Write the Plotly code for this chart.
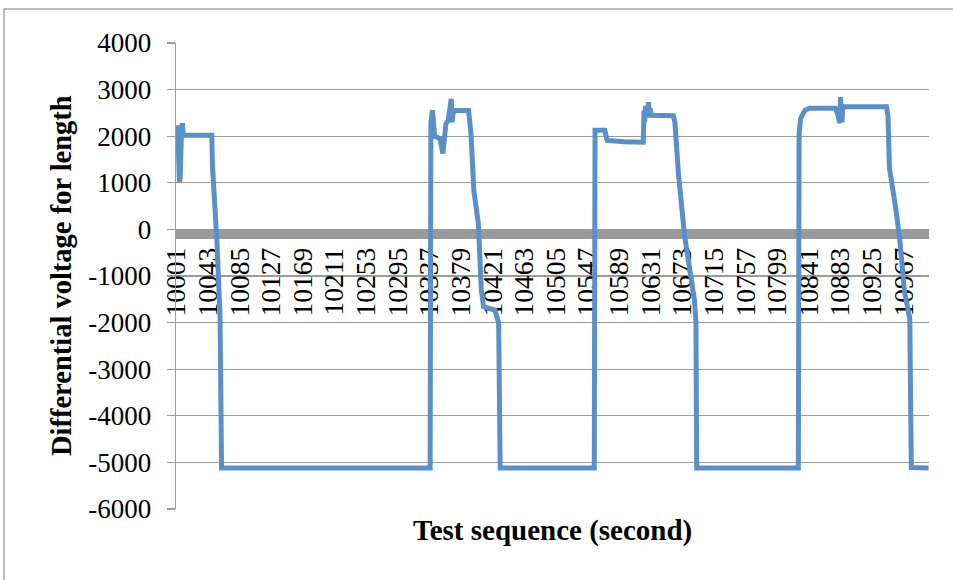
import plotly.graph_objects as go

# Breakpoints of the measured trace (test sequence index, differential voltage)
seq_x = [10001, 10003, 10005, 10006, 10008, 10009, 10010, 10012, 10048, 10049,
         10055, 10059, 10061, 10338, 10339, 10341, 10344, 10351, 10355, 10359,
         10362, 10366, 10367, 10369, 10389, 10392, 10394, 10396, 10402, 10406,
         10409, 10424, 10429, 10431, 10556, 10557, 10570, 10573, 10596, 10621,
         10622, 10623, 10624, 10626, 10628, 10629, 10630, 10632, 10661, 10663,
         10668, 10676, 10689, 10691, 10692, 10827, 10828, 10830, 10836, 10842,
         10876, 10879, 10882, 10883, 10885, 10886, 10944, 10946, 10948, 10957,
         10962, 10968, 10975, 10977, 11000]
voltage = [2230, 2100, 1020, 1100, 2200, 2280, 2050, 2020, 2020, 1340,
           -300, -1870, -5120, -5120, 2300, 2560, 2000, 1950, 1630, 2270,
           2340, 2800, 2300, 2550, 2550, 2100, 1500, 840, 130, -1300,
           -1660, -1730, -2010, -5120, -5120, 2130, 2130, 1910, 1880, 1870,
           2550, 2300, 2650, 2400, 2730, 2450, 2600, 2450, 2440, 2300,
           1150, -150, -1510, -2000, -5120, -5120, 2050, 2380, 2560, 2600,
           2600, 2490, 2280, 2840, 2300, 2630, 2630, 2450, 1310, 380,
           -270, -1340, -1920, -5110, -5120]

x_tick_vals = [10001, 10043, 10085, 10127, 10169, 10211, 10253, 10295, 10337, 10379,
               10421, 10463, 10505, 10547, 10589, 10631, 10673, 10715, 10757, 10799,
               10841, 10883, 10925, 10967]
x_tick_text = [str(v) for v in x_tick_vals]
y_tick_vals = [-6000, -5000, -4000, -3000, -2000, -1000, 0, 1000, 2000, 3000, 4000]
y_tick_text = ["-6000", "-5000", "-4000", "-3000", "-2000", "-1000", "0",
               "1000", "2000", "3000", "4000"]

x_title = "Test sequence (second)"
y_title = "Differential voltage for length"

SERIF = "Liberation Serif, Times New Roman, serif"
GRID = "#9a9a9a"

fig = go.Figure()
fig.add_trace(go.Scatter(
    x=seq_x, y=voltage, mode="lines",
    line=dict(color="#5a8fc8", width=5),
    showlegend=False, hoverinfo="skip",
))

fig.update_layout(
    width=953, height=580,
    margin=dict(l=176, r=24, t=43, b=71),
    paper_bgcolor="white", plot_bgcolor="white",
    font=dict(family=SERIF, color="black"),
    xaxis=dict(
        range=[10000.5, 11000.5],
        tickmode="array", tickvals=x_tick_vals, ticktext=x_tick_text,
        tickangle=-90, tickfont=dict(family=SERIF, size=27.5, color="black"),
        showgrid=False, zeroline=False,
        showline=True, linecolor="#999999", linewidth=9,
        anchor="free", position=0.5906,
        ticks="", layer="below traces",
        ticklabelstandoff=-2,
    ),
    yaxis=dict(
        range=[-6000, 4000],
        tickmode="array", tickvals=y_tick_vals, ticktext=y_tick_text,
        tickfont=dict(family=SERIF, size=27, color="black"),
        showgrid=True, gridcolor=GRID, gridwidth=1.3,
        zeroline=False,
        showline=True, linecolor=GRID, linewidth=1.3,
        ticks="outside", ticklen=8, tickcolor=GRID, tickwidth=1.3,
        ticklabelstandoff=10,
    ),
    annotations=[
        dict(text="<b>" + y_title + "</b>", xref="paper", yref="paper",
             x=-0.1527, y=0.5, xanchor="center", yanchor="middle",
             textangle=-90, showarrow=False,
             font=dict(family=SERIF, size=28.5, color="black")),
        dict(text="<b>" + x_title + "</b>", xref="paper", yref="paper",
             x=0.5, y=-0.047, xanchor="center", yanchor="middle",
             showarrow=False,
             font=dict(family=SERIF, size=29, color="black")),
    ],
    shapes=[
        dict(type="rect", xref="paper", yref="paper",
             x0=-0.2284, x1=1.2, y0=-0.3, y1=1.073,
             line=dict(color="#a6a6a6", width=1.5), fillcolor="rgba(0,0,0,0)",
             layer="below"),
    ],
)

fig.write_html("out.html",
               config={"displayModeBar": False, "staticPlot": True},
               post_script="document.body.style.margin='0';document.body.style.overflow='hidden';")
